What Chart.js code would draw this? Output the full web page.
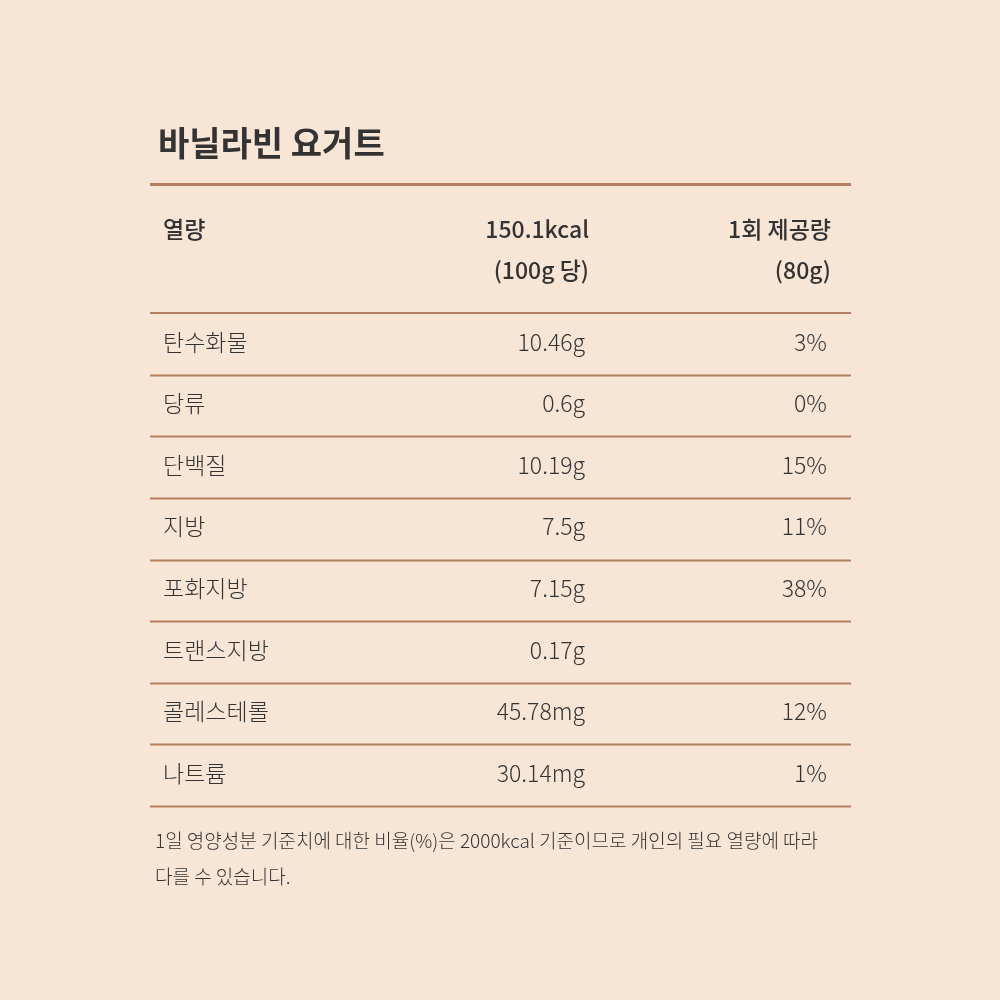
<!DOCTYPE html>
<html><head><meta charset="utf-8">
<script src="https://cdn.jsdelivr.net/npm/chart.js@4/dist/chart.umd.min.js"></script>
<style>html,body{margin:0;background:#f7e6d6}canvas{display:block}</style>
</head><body>
<canvas id="c" width="1000" height="1000"></canvas>
<script>
const title = "바닐라빈 요거트";
const nutrients = ["탄수화물", "당류", "단백질", "지방", "포화지방", "트랜스지방", "콜레스테롤", "나트륨"];
const amounts = ["10.46g", "0.6g", "10.19g", "7.5g", "7.15g", "0.17g", "45.78mg", "30.14mg"];
const percents = ["3%", "0%", "15%", "11%", "38%", "", "12%", "1%"];
const footnote = ["1일 영양성분 기준치에 대한 비율(%)은 2000kcal 기준이므로 개인의 필요 열량에 따라", "다를 수 있습니다."];

const FONT = "'Noto Sans CJK KR', 'Noto Sans', sans-serif";
const INK = "#333333";
const RULE = "#b47f5f";

const tablePlugin = {
  id: "table",
  afterDraw(chart) {
    const ctx = chart.ctx;
    const y = chart.scales.y;
    const { left, right, top, bottom } = chart.chartArea;
    ctx.save();
    ctx.fillStyle = INK;
    ctx.textBaseline = "middle";
    ctx.font = "bold 34px " + FONT;
    ctx.textAlign = "left";
    ctx.fillText(title, left + 8, 143);

    ctx.strokeStyle = RULE;
    ctx.lineWidth = 3;
    ctx.beginPath(); ctx.moveTo(left, 184.5); ctx.lineTo(right, 184.5); ctx.stroke();

    ctx.font = "500 23px " + FONT;
    ctx.fillText("열량", left + 13, 229);
    ctx.textAlign = "right";
    ctx.fillText("150.1kcal", 589, 229);
    ctx.fillText("(100g 당)", 589, 270);
    ctx.fillText("1회 제공량", 831, 229);
    ctx.fillText("(80g)", 831, 270);

    ctx.lineWidth = 2;
    ctx.beginPath(); ctx.moveTo(left, top); ctx.lineTo(right, top); ctx.stroke();

    ctx.font = "300 23px " + FONT;
    nutrients.forEach((n, i) => {
      const cy = y.getPixelForValue(i);
      const half = (bottom - top) / nutrients.length / 2;
      ctx.textAlign = "left";
      ctx.fillText(n, left + 13, cy - 2);
      ctx.textAlign = "right";
      ctx.fillText(amounts[i], 585, cy - 2);
      ctx.fillText(percents[i], 827, cy - 2);
      ctx.beginPath();
      ctx.moveTo(left, Math.round(cy + half) + 0.5);
      ctx.lineTo(right, Math.round(cy + half) + 0.5);
      ctx.stroke();
    });

    ctx.font = "300 19px " + FONT;
    ctx.textAlign = "left";
    ctx.fillText(footnote[0], left + 5, 841);
    ctx.fillText(footnote[1], left + 5, 877);
    ctx.restore();
  }
};

new Chart(document.getElementById("c"), {
  type: "bar",
  data: { labels: nutrients, datasets: [{ data: nutrients.map(() => 0), backgroundColor: "rgba(0,0,0,0)" }] },
  options: {
    indexAxis: "y",
    responsive: false,
    animation: false,
    layout: { padding: { top: 313, bottom: 194, left: 150, right: 149 } },
    plugins: { legend: { display: false }, tooltip: { enabled: false } },
    scales: { x: { display: false, min: 0, max: 1 }, y: { display: false } }
  },
  plugins: [tablePlugin]
});
</script>
</body></html>
